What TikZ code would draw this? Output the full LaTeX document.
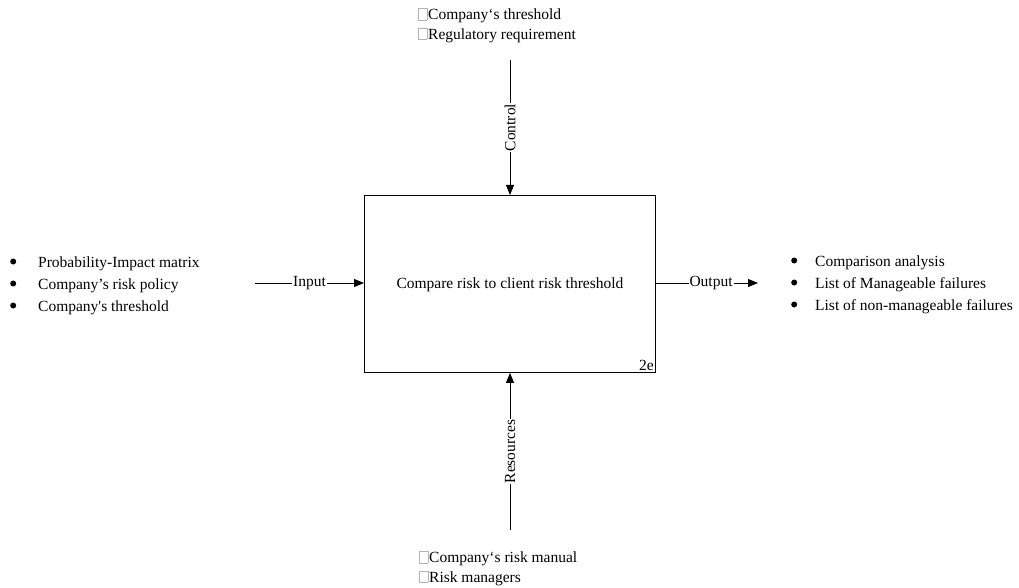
\documentclass[tikz,border=0pt]{standalone}
\usepackage{fontspec}
\setmainfont{Liberation Serif}
\usetikzlibrary{arrows.meta,calc}

% empty glyph box shown in front of the control/resource items
\newcommand\tofu{{\color{black!30}\setlength\fboxsep{0pt}\setlength\fboxrule{0.5pt}\fbox{\rule{0pt}{11pt}\hspace{8pt}}}\hspace{1pt}}
% bullet item with a fixed indent
\newcommand\bitem[2][28pt]{\makebox[#1][l]{\raisebox{3.2pt}{\tikz\fill (0,0) circle (3pt);}}#2}
\newcommand\backtick{\symbol{96}}

\begin{document}
\begin{tikzpicture}[x=1pt,y=-1pt,
  every node/.style={font=\fontsize{15.5}{19.5}\selectfont, inner sep=0pt},
  flow/.style={line width=0.8pt, -{Triangle[length=10pt,width=8pt]}},
  lbl/.style={fill=white, inner xsep=1pt, inner ysep=2pt},
  activity/.style={draw, line width=0.9pt, minimum width=291pt, minimum height=177pt, anchor=north west},
  listtext/.style={align=left, anchor=west},
]
\useasboundingbox (0,0) rectangle (1019,588);

% activity box
\node[activity] (act) at (364,195) {};
\node at (act.center) [yshift=-1pt] {Compare risk to client risk threshold};
\node[anchor=south east] (num) at ($(act.south east)+(-2,-2)$) {2e};

% free ends of the connectors
\coordinate (cin) at (255,283);
\coordinate (cout) at (758,283);
\coordinate (cctl) at (510,60);
\coordinate (cres) at (510,530);

% connectors
\draw[flow] (cin) -- node[lbl] {Input} (act.west |- cin);
\draw[flow] (act.east |- cout) -- node[lbl, pos=0.54] {Output} (cout);
\draw[flow] (cctl) -- node[lbl, rotate=90] {Control} (act.north -| cctl);
\draw[flow] (cres) -- node[lbl, rotate=90] {Resources} (act.south -| cres);

% text blocks
\node[listtext, anchor=north west] (ctl) at (418,8)
  {\tofu Company\backtick s threshold\\ \tofu Regulatory requirement};
\node[listtext, anchor=north west] (res) at (419,551)
  {\tofu Company\backtick s risk manual\\ \tofu Risk managers};
\node[listtext, font=\fontsize{15.5}{22}\selectfont] (inp) at (10,286)
  {\bitem{Probability-Impact matrix}\\ \bitem{Company’s risk policy}\\ \bitem{Company\textquotesingle s threshold}};
\node[listtext, font=\fontsize{15.5}{22}\selectfont] (outp) at (791,285)
  {\bitem[24pt]{Comparison analysis}\\ \bitem[24pt]{List of Manageable failures}\\ \bitem[24pt]{List of non-manageable failures}};
\end{tikzpicture}
\end{document}
